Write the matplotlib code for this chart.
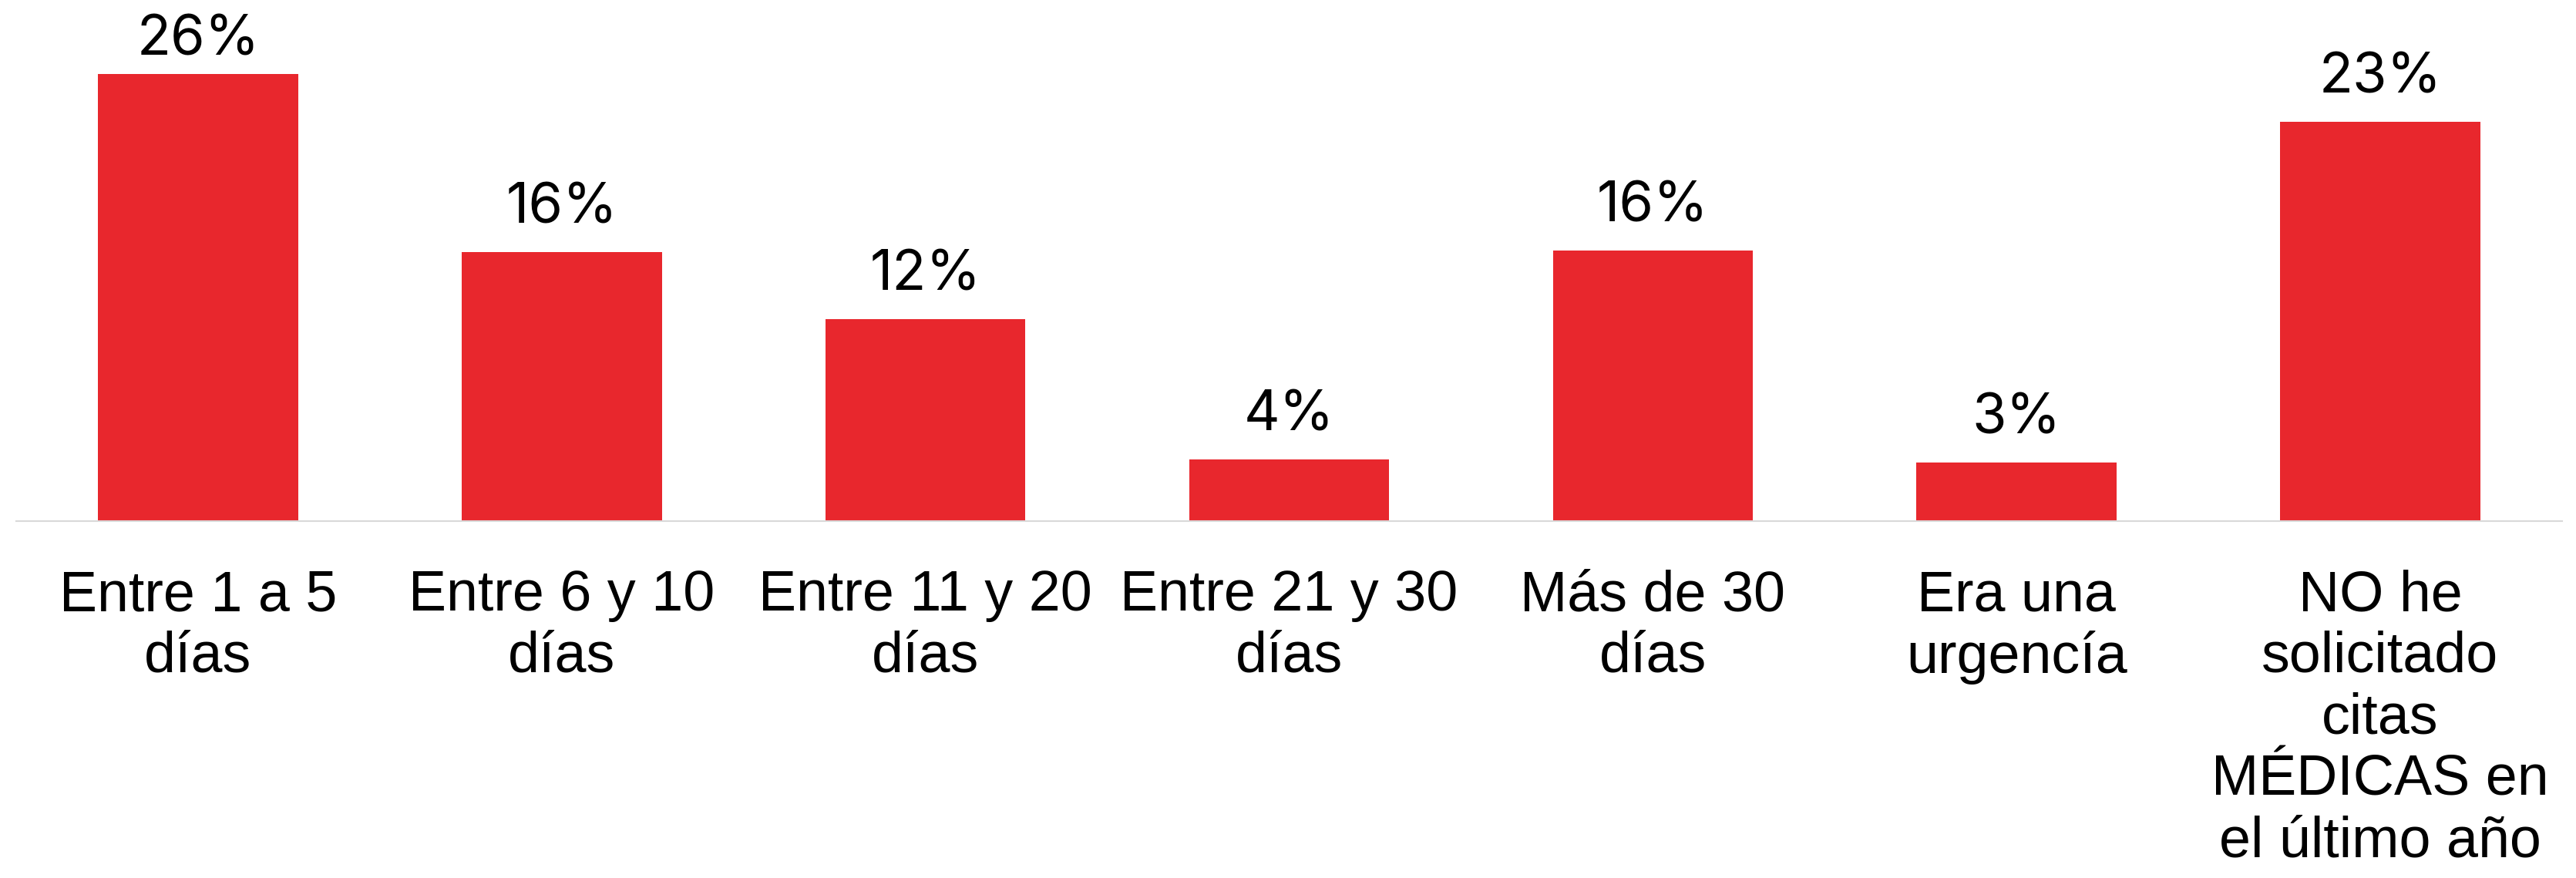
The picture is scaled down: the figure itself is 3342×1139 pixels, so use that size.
# Barras: tiempo de espera para una cita médica.

import matplotlib
matplotlib.use("Agg")
import matplotlib.pyplot as plt

# Datos
categorias = [
    "Entre 1 a 5\ndías",
    "Entre 6 y 10\ndías",
    "Entre 11 y 20\ndías",
    "Entre 21 y 30\ndías",
    "Más de 30\ndías",
    "Era una\nurgencía",
    "NO he\nsolicitado\ncitas\nMÉDICAS en\nel último año",
]
porcentajes = [26.1, 15.7, 11.8, 3.6, 15.8, 3.4, 23.3]
etiquetas = ["26%", "16%", "12%", "4%", "16%", "3%", "23%"]

ROJO = "#e8272d"
GRIS = "#d9d9d9"

figura = plt.figure(figsize=(33.42, 11.39), dpi=100)
eixo = figura.add_axes([0.0063, 0.4069, 0.9883, 0.5849])

posicoes = range(len(categorias))
barras = eixo.bar(posicoes, porcentajes, width=0.55, color=ROJO)

# rótulo em cima de cada barra; o da maior fica mais colado (falta espaço)
for barra, texto in zip(barras, etiquetas):
    altura = barra.get_height()
    desloc = 7 if altura == max(porcentajes) else 16
    eixo.annotate(texto, (barra.get_x() + barra.get_width() / 2, altura),
                  textcoords="offset points", xytext=(0, desloc),
                  ha="center", va="bottom", fontsize=52, family="Inter")

eixo.set_xlim(-0.5, 6.5)
eixo.set_ylim(0, 30)
eixo.set_xticks(list(posicoes))
eixo.set_xticklabels(categorias, fontsize=53, family="Liberation Sans",
                     linespacing=1.2)
eixo.tick_params(axis="x", length=0, pad=45)
eixo.set_yticks([])
for lado in ("top", "left", "right"):
    eixo.spines[lado].set_visible(False)
eixo.spines["bottom"].set_color(GRIS)
eixo.spines["bottom"].set_linewidth(1.5)

figura.savefig("out.png", dpi=100)
plt.close(figura)
